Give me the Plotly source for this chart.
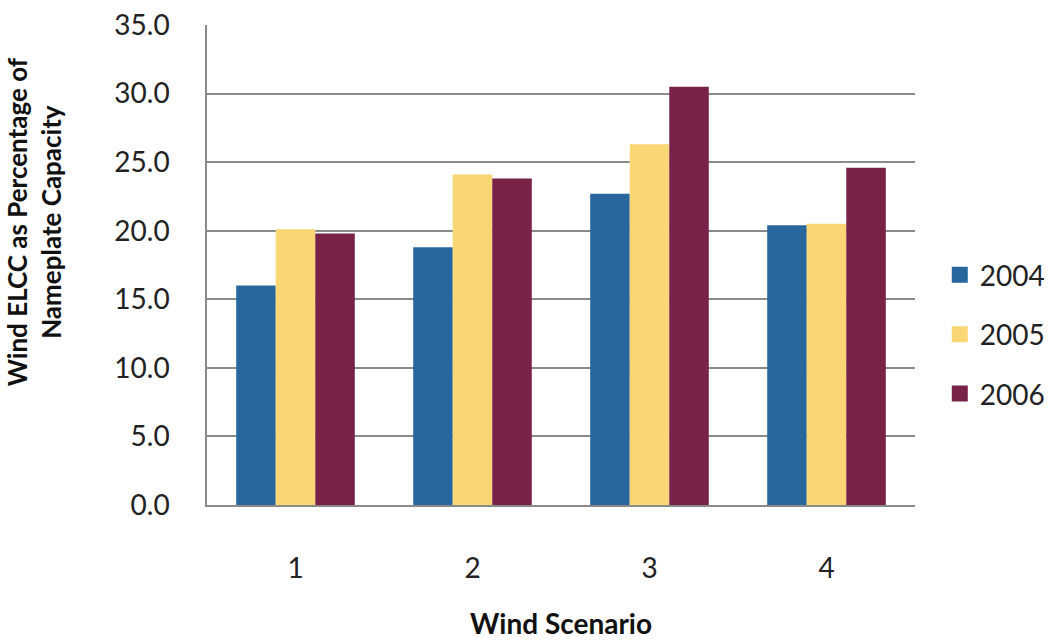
import plotly.graph_objects as go

scenarios = ["1", "2", "3", "4"]
years = ["2004", "2005", "2006"]
elcc_2004 = [16.0, 18.8, 22.7, 20.4]
elcc_2005 = [20.1, 24.1, 26.3, 20.5]
elcc_2006 = [19.8, 23.8, 30.5, 24.6]
y_ticks = [0, 5, 10, 15, 20, 25, 30, 35]

colors = ["#27679E", "#FAD775", "#782248"]
series = [elcc_2004, elcc_2005, elcc_2006]

fig = go.Figure()
for year, vals, col in zip(years, series, colors):
    fig.add_trace(go.Bar(
        x=scenarios, y=vals, name=year, legendgroup=year,
        marker=dict(color=col, line=dict(width=0)),
        showlegend=False,
    ))
    # legend key: larger square swatch than the default bar icon
    fig.add_trace(go.Scatter(
        x=[None], y=[None], mode="markers", name=year, legendgroup=year,
        marker=dict(symbol="square", size=16, color=col),
        showlegend=True,
    ))

font_family = "Lato, 'Open Sans', sans-serif"

fig.update_layout(
    width=1063, height=640,
    margin=dict(l=207, r=148, t=25, b=135),
    paper_bgcolor="white", plot_bgcolor="white",
    barmode="group", bargap=0.33, bargroupgap=0,
    font=dict(family=font_family, size=26, color="#222222"),
    showlegend=True,
    legend=dict(
        x=1.035, y=0.355, xanchor="left", yanchor="middle",
        font=dict(size=28, color="#222222"),
        traceorder="grouped", tracegroupgap=20,
        itemwidth=30, itemsizing="trace",
    ),
    xaxis=dict(
        type="category", automargin=False,
        showline=True, linecolor="#8a8a8a", linewidth=1.5,
        showgrid=False, ticks="", ticklabelstandoff=38,
        tickfont=dict(size=28),
    ),
    yaxis=dict(
        range=[0, 35], tickvals=y_ticks, automargin=False,
        ticktext=[f"{v:.1f}" for v in y_ticks],
        showline=True, linecolor="#8a8a8a", linewidth=1.5,
        showgrid=True, gridcolor="#8a8a8a", gridwidth=1.5,
        zeroline=False, ticks="", ticklabelstandoff=30,
        tickfont=dict(size=28),
    ),
    annotations=[
        dict(
            text="<b>Wind ELCC as Percentage of<br>Nameplate Capacity</b>",
            xref="paper", yref="paper", x=-0.245, y=0.59,
            xanchor="center", yanchor="middle", textangle=-90,
            showarrow=False, font=dict(size=26, color="#111111"),
        ),
        dict(
            text="<b>Wind Scenario</b>",
            xref="paper", yref="paper", x=0.5, y=-0.245,
            xanchor="center", yanchor="middle",
            showarrow=False, font=dict(size=28, color="#111111"),
        ),
    ],
)

fig.write_html("out.html")
